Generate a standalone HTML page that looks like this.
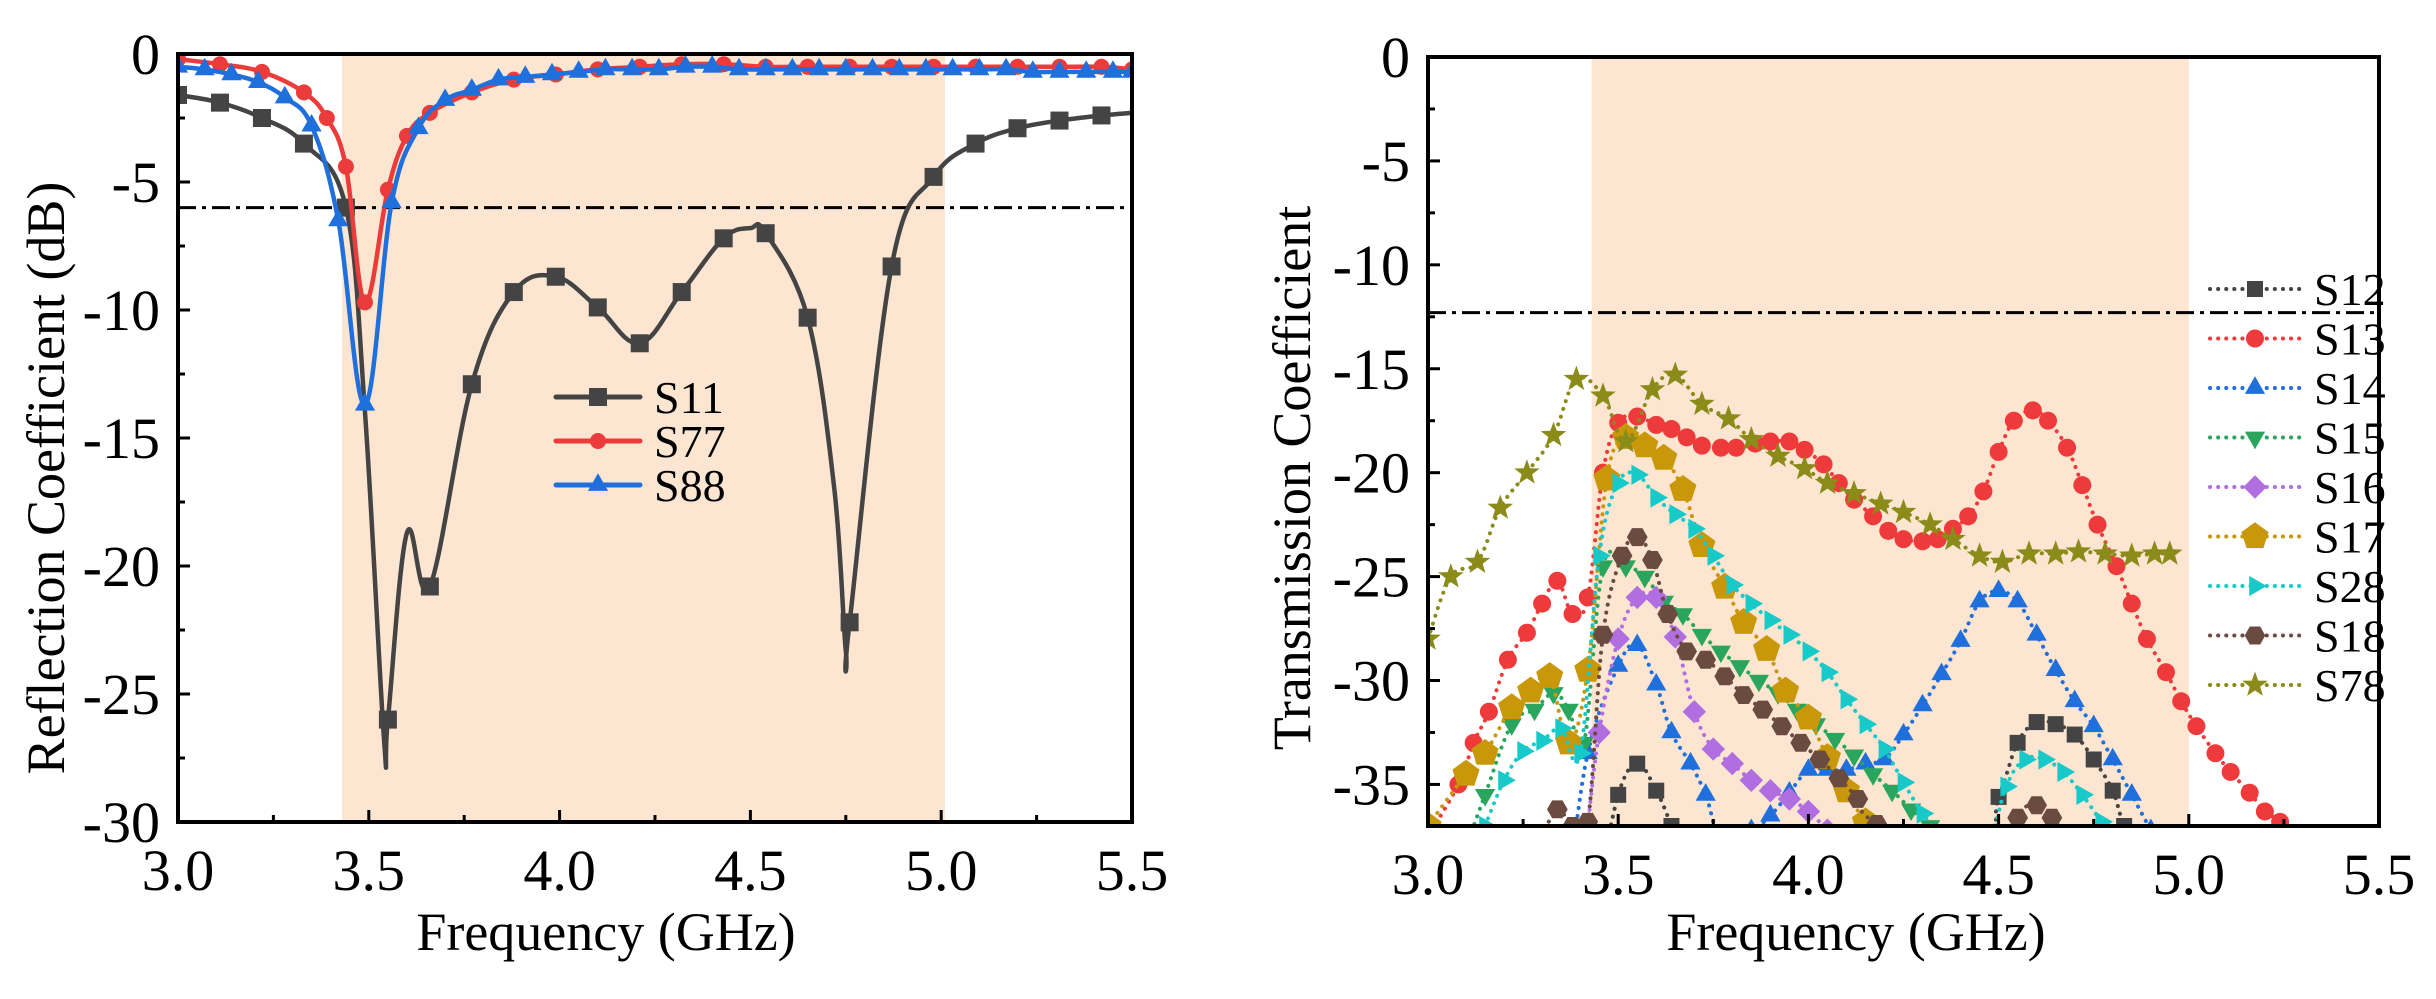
<!DOCTYPE html>
<html><head><meta charset="utf-8">
<style>
html,body{margin:0;padding:0;background:#fff;}
svg{display:block;}
text{font-family:"Liberation Serif",serif;fill:#000;}
</style></head>
<body>
<svg id="c" width="2436" height="999" viewBox="0 0 2436 999" xmlns="http://www.w3.org/2000/svg"></svg>
<script>
// ---------- Left chart data ----------
const s11F=[3.0,3.11,3.22,3.33,3.44,3.49,3.54,3.55,3.6,3.66,3.77,3.88,3.99,4.1,4.21,4.32,4.43,4.5,4.54,4.65,4.72,4.75,4.76,4.87,4.98,5.09,5.2,5.31,5.42,5.5];
const s11V=[-1.6,-1.9,-2.5,-3.5,-6.0,-14,-26.8,-26,-18.7,-20.8,-12.9,-9.3,-8.7,-9.9,-11.3,-9.3,-7.2,-6.8,-7.0,-10.3,-17,-23.3,-22.2,-8.3,-4.8,-3.5,-2.9,-2.6,-2.4,-2.3];
const s11Mark=[1,1,1,1,1,0,0,1,0,1,1,1,1,1,1,1,1,0,1,1,0,0,1,1,1,1,1,1,1,0];
const s77F=[3.0,3.11,3.22,3.33,3.39,3.44,3.49,3.55,3.6,3.66,3.77,3.88,3.99,4.1,4.21,4.32,4.43,4.54,4.65,4.76,4.87,4.98,5.09,5.2,5.31,5.42,5.5];
const s77V=[-0.2,-0.4,-0.7,-1.5,-2.5,-4.4,-9.7,-5.3,-3.2,-2.3,-1.5,-1.0,-0.8,-0.6,-0.5,-0.4,-0.4,-0.5,-0.5,-0.5,-0.5,-0.5,-0.5,-0.5,-0.5,-0.5,-0.6];
const s88F=[3.0,3.07,3.14,3.21,3.28,3.35,3.42,3.49,3.56,3.63,3.70,3.77,3.84,3.91,3.98,4.05,4.12,4.19,4.26,4.33,4.40,4.47,4.54,4.61,4.68,4.75,4.82,4.89,4.96,5.03,5.10,5.17,5.24,5.31,5.38,5.45,5.5];
const s88V=[-0.5,-0.6,-0.8,-1.1,-1.7,-2.8,-6.5,-13.7,-5.8,-2.9,-1.8,-1.4,-1.0,-0.9,-0.8,-0.7,-0.6,-0.6,-0.6,-0.5,-0.5,-0.6,-0.6,-0.6,-0.6,-0.6,-0.6,-0.6,-0.6,-0.6,-0.6,-0.6,-0.7,-0.7,-0.7,-0.7,-0.7];
const leftXTicks=["3.0","3.5","4.0","4.5","5.0","5.5"];
const leftYTicks=["0","-5","-10","-15","-20","-25","-30"];
const leftThreshold=-6;
// ---------- Right chart data ----------
const s12F=[3.45,3.5,3.55,3.6,3.64,3.7,4.4,4.5,4.55,4.6,4.65,4.7,4.75,4.8,4.83,4.9];
const s12V=[-40,-35.5,-34,-35.3,-37,-40,-40,-35.6,-33,-32,-32.1,-32.6,-33.8,-35.3,-37,-40];
const s13F=[3.0,3.08,3.12,3.16,3.21,3.26,3.3,3.34,3.38,3.42,3.46,3.5,3.55,3.6,3.64,3.68,3.72,3.77,3.81,3.86,3.9,3.95,3.99,4.04,4.08,4.12,4.17,4.21,4.25,4.3,4.34,4.38,4.42,4.46,4.5,4.54,4.59,4.63,4.68,4.72,4.76,4.81,4.85,4.89,4.94,4.98,5.02,5.07,5.11,5.16,5.2,5.24,5.28];
const s13V=[-37.5,-35,-33,-31.5,-29,-27.7,-26.3,-25.2,-26.8,-26,-20,-17.6,-17.3,-17.7,-17.9,-18.3,-18.7,-18.8,-18.8,-18.6,-18.5,-18.5,-18.9,-19.6,-20.5,-21.3,-22.1,-22.8,-23.2,-23.3,-23.2,-22.7,-22.1,-20.9,-19,-17.5,-17,-17.5,-18.8,-20.6,-22.5,-24.5,-26.3,-28,-29.6,-31,-32.2,-33.5,-34.4,-35.4,-36.3,-36.8,-38];
const s14F=[3.37,3.42,3.5,3.55,3.6,3.64,3.69,3.73,3.77,3.85,3.9,3.95,4.0,4.05,4.1,4.15,4.2,4.25,4.3,4.35,4.4,4.45,4.5,4.55,4.6,4.65,4.7,4.75,4.8,4.85,4.9];
const s14V=[-40,-33.5,-29.3,-28.3,-30.2,-32.5,-34,-35.5,-37.5,-37.2,-36.5,-35.4,-34.3,-34.3,-34.3,-34,-33.8,-32.6,-31.2,-29.7,-28.1,-26.2,-25.7,-26.2,-27.8,-29.5,-31,-32.2,-33.8,-35.5,-37.2];
const s15F=[3.1,3.15,3.22,3.28,3.33,3.37,3.41,3.46,3.52,3.57,3.62,3.67,3.72,3.77,3.82,3.87,3.92,3.97,4.02,4.07,4.12,4.17,4.22,4.27,4.32];
const s15V=[-38,-35.5,-32.1,-31.4,-30.6,-31.4,-33,-24.5,-24.5,-25,-26.2,-26.8,-27.8,-28.6,-29.3,-30,-30.6,-31.4,-32.1,-32.8,-33.6,-34.5,-35.3,-36.2,-37];
const s16F=[3.42,3.45,3.5,3.55,3.6,3.65,3.7,3.75,3.8,3.85,3.9,3.95,4.0,4.05];
const s16V=[-37,-32.5,-28,-26,-26,-27.9,-31.5,-33.3,-34,-34.8,-35.3,-35.7,-36.3,-37.2];
const s17F=[3.0,3.1,3.15,3.22,3.27,3.32,3.37,3.42,3.47,3.52,3.57,3.62,3.67,3.72,3.78,3.83,3.89,3.94,4.0,4.05,4.1,4.15,4.2];
const s17V=[-37,-34.5,-33.5,-31.3,-30.5,-29.8,-33,-29.5,-20.3,-18.3,-18.7,-19.3,-20.8,-23.5,-25.5,-27.2,-28.5,-30.5,-31.8,-33.7,-35.3,-36.8,-37.5];
const s28F=[3.15,3.2,3.25,3.3,3.35,3.4,3.45,3.5,3.55,3.6,3.65,3.7,3.75,3.8,3.85,3.9,3.95,4.0,4.05,4.1,4.15,4.2,4.25,4.3,4.35,4.45,4.52,4.57,4.62,4.67,4.72,4.77];
const s28V=[-37,-34.8,-33.4,-32.9,-32.3,-33.5,-24,-20.5,-20.1,-21.2,-22,-22.7,-24,-25.4,-26.3,-27.1,-27.8,-28.6,-29.6,-30.9,-32.1,-33.3,-34.9,-36.4,-37.5,-39,-35.1,-33.8,-33.8,-34.4,-35.5,-36.8];
const s18F=[3.3,3.34,3.38,3.42,3.46,3.51,3.55,3.59,3.63,3.68,3.73,3.78,3.83,3.88,3.93,3.98,4.03,4.08,4.13,4.18,4.5,4.55,4.6,4.64,4.7];
const s18V=[-37.5,-36.2,-37,-36.8,-27.8,-24,-23.1,-24.2,-26.8,-28.6,-29,-29.8,-30.7,-31.4,-32.2,-33,-33.8,-34.7,-35.7,-36.9,-40,-36.6,-36,-36.6,-38];
const s78F=[3.0,3.06,3.13,3.19,3.26,3.33,3.39,3.46,3.52,3.59,3.65,3.72,3.79,3.85,3.92,3.99,4.05,4.12,4.19,4.25,4.32,4.38,4.45,4.51,4.58,4.65,4.71,4.78,4.85,4.91,4.95];
const s78V=[-28,-25,-24.3,-21.7,-20,-18.2,-15.5,-16.3,-18.5,-16,-15.3,-16.7,-17.4,-18.4,-19.2,-19.8,-20.5,-21,-21.5,-21.9,-22.5,-23.2,-24,-24.3,-23.9,-23.9,-23.8,-23.9,-24,-23.9,-23.9];
const rightXTicks=["3.0","3.5","4.0","4.5","5.0","5.5"];
const rightYTicks=["0","-5","-10","-15","-20","-25","-30","-35"];
const rightThreshold=-12.3;

const NS="http://www.w3.org/2000/svg";
const svg=document.getElementById('c');
function mk(tag,attrs,parent){const e=document.createElementNS(NS,tag);for(const k in attrs)e.setAttribute(k,attrs[k]);(parent||svg).appendChild(e);return e;}

function smoothPath(pts){
  if(pts.length<2)return '';
  let d='M'+pts[0][0]+','+pts[0][1];
  for(let i=0;i<pts.length-1;i++){
    const p0=pts[i-1]||pts[i],p1=pts[i],p2=pts[i+1],p3=pts[i+2]||p2;
    const t=0.18;
    const c1=[p1[0]+(p2[0]-p0[0])*t,p1[1]+(p2[1]-p0[1])*t];
    const c2=[p2[0]-(p3[0]-p1[0])*t,p2[1]-(p3[1]-p1[1])*t];
    d+=' C'+c1[0]+','+c1[1]+' '+c2[0]+','+c2[1]+' '+p2[0]+','+p2[1];
  }
  return d;
}
function marker(g,shape,x,y,r,color){
  let e;
  if(shape==='square'){e=mk('rect',{x:x-r,y:y-r,width:2*r,height:2*r,fill:color},g);}
  else if(shape==='circle'){e=mk('circle',{cx:x,cy:y,r:r,fill:color},g);}
  else{
    let pts;
    const poly=(n,rot,rr)=>{const a=[];for(let i=0;i<n;i++){const an=rot+i*2*Math.PI/n;a.push((x+rr*Math.cos(an)).toFixed(1)+','+(y+rr*Math.sin(an)).toFixed(1));}return a.join(' ');};
    if(shape==='tri')pts=poly(3,-Math.PI/2,r*1.3);
    else if(shape==='dtri')pts=poly(3,Math.PI/2,r*1.3);
    else if(shape==='rtri')pts=poly(3,0,r*1.3);
    else if(shape==='diamond')pts=poly(4,-Math.PI/2,r*1.3);
    else if(shape==='pent')pts=poly(5,-Math.PI/2,r*1.3);
    else if(shape==='hex')pts=poly(6,0,r*1.15);
    else if(shape==='star'){const a=[];for(let i=0;i<10;i++){const an=-Math.PI/2+i*Math.PI/5;const rr=i%2?r*0.55:r*1.35;a.push((x+rr*Math.cos(an)).toFixed(1)+','+(y+rr*Math.sin(an)).toFixed(1));}pts=a.join(' ');}
    e=mk('polygon',{points:pts,fill:color},g);
  }
  
  
}

function chart(o){
  const X=f=>o.L+(f-3)/2.5*(o.R-o.L);
  const Y=v=>o.T+(0-v)/(-o.ymin)*(o.B-o.T);
  const g=mk('g',{});
  
  
  const clipId=o.name+'-clip';
  const cp=mk('clipPath',{id:clipId},g);mk('rect',{x:o.L,y:o.T,width:o.R-o.L,height:o.B-o.T},cp);
  const band=mk('rect',{x:X(3.43),y:o.T,width:X(o.bandEnd)-X(3.43),height:o.B-o.T,fill:'#fde6d1'},g);
  
  
  const th=mk('line',{x1:o.L,x2:o.thEnd,y1:Y(o.th),y2:Y(o.th),stroke:'#000','stroke-width':3,'stroke-dasharray':'18,6,4,6'},g);
  
  
  const pg=mk('g',{'clip-path':'url(#'+clipId+')'},g);
  o.series.forEach(s=>{
    const sg=mk('g',{},pg);
    
    
    const pts=s.f.map((f,i)=>[X(f),Y(s.v[i])]);
    mk('path',{d:smoothPath(pts),fill:'none',stroke:s.color,'stroke-width':s.dotted?4:4.5,'stroke-dasharray':s.dotted?'0.1,8':'none','stroke-linecap':'round'},sg);
    pts.forEach((p,i)=>{if(!s.mark||s.mark[i])marker(sg,s.shape,p[0],p[1],s.r||10,s.color);});
  });
  const fr=mk('rect',{x:o.L,y:o.T,width:o.R-o.L,height:o.B-o.T,fill:'none',stroke:'#000','stroke-width':4},g);
  
  
  o.xt.forEach((t,i)=>{
    const x=X(parseFloat(t));
    mk('line',{x1:x,x2:x,y1:o.B,y2:o.B-12,stroke:'#000','stroke-width':3},g);
    if(i<o.xt.length-1){const xm=X(parseFloat(t)+0.25);mk('line',{x1:xm,x2:xm,y1:o.B,y2:o.B-7,stroke:'#000','stroke-width':3},g);}
    const tx=mk('text',{x:x,y:o.B+68,'font-size':58,'text-anchor':'middle'},g);tx.textContent=t;
    
    
  });
  o.yt.forEach((t,i)=>{
    const v=parseFloat(t);const y=Y(v);
    mk('line',{x1:o.L,x2:o.L+12,y1:y,y2:y,stroke:'#000','stroke-width':3},g);
    if(v-2.5>o.ymin){const ym=Y(v-2.5);mk('line',{x1:o.L,x2:o.L+7,y1:ym,y2:ym,stroke:'#000','stroke-width':3},g);}
    const tx=mk('text',{x:o.L-18,y:y+20,'font-size':58,'text-anchor':'end'},g);tx.textContent=t;
    
    
  });
  const xt=mk('text',{x:o.xtX,y:950,'font-size':54,'text-anchor':'middle'},g);xt.textContent='Frequency (GHz)';
  
  
  const yt=mk('text',{x:0,y:0,'font-size':54,'text-anchor':'middle',transform:'translate('+o.ytX+',478) rotate(-90)'},g);yt.textContent=o.ytitle;
  
  
  const lg=mk('g',{},g);
  
  
  o.series.forEach((s,i)=>{
    const y=o.lgY+i*o.lgDy;
    const eg=mk('g',{},lg);
    
    
    mk('line',{x1:o.lgX1,x2:o.lgX2,y1:y,y2:y,stroke:s.color,'stroke-width':s.dotted?4:5,'stroke-dasharray':s.dotted?'0.1,8':'none','stroke-linecap':'round'},eg);
    marker(eg,s.shape,(o.lgX1+o.lgX2)/2,y,s.r||10,s.color);
    const tx=mk('text',{x:o.lgX2+14,y:y+16,'font-size':46},eg);tx.textContent=s.label;
  });
}

chart({name:'reflection-chart',L:178,R:1132,T:54,B:822,ymin:-30,bandEnd:5.01,th:leftThreshold,thEnd:1128,
  xt:leftXTicks,yt:leftYTicks,xtX:606,ytX:64,ytitle:'Reflection Coefficient (dB)',
  lgX1:556,lgX2:640,lgY:397,lgDy:44,
  series:[
   {label:'S11',f:s11F,v:s11V,mark:s11Mark,color:'#444444',shape:'square',r:9},
   {label:'S77',f:s77F,v:s77V,color:'#ec3b3b',shape:'circle',r:8},
   {label:'S88',f:s88F,v:s88V,color:'#1f6fdc',shape:'tri',r:9}]});

chart({name:'transmission-chart',L:1428,R:2379,T:57,B:826,ymin:-37,bandEnd:5.0,th:rightThreshold,thEnd:2379,
  xt:rightXTicks,yt:rightYTicks,xtX:1856,ytX:1310,ytitle:'Transmission Coefficient',
  lgX1:2210,lgX2:2300,lgY:289,lgDy:49.5,
  series:[
   {label:'S12',f:s12F,v:s12V,color:'#444444',shape:'square',dotted:1,r:8},
   {label:'S13',f:s13F,v:s13V,color:'#ee3a3a',shape:'circle',dotted:1,r:9},
   {label:'S14',f:s14F,v:s14V,color:'#1f6fdc',shape:'tri',dotted:1,r:9},
   {label:'S15',f:s15F,v:s15V,color:'#2aa55e',shape:'dtri',dotted:1,r:9},
   {label:'S16',f:s16F,v:s16V,color:'#b06ee0',shape:'diamond',dotted:1,r:9},
   {label:'S17',f:s17F,v:s17V,color:'#c9980a',shape:'pent',dotted:1,r:11},
   {label:'S28',f:s28F,v:s28V,color:'#17c9c9',shape:'rtri',dotted:1,r:9},
   {label:'S18',f:s18F,v:s18V,color:'#6b4a40',shape:'hex',dotted:1,r:9},
   {label:'S78',f:s78F,v:s78V,color:'#8b8b1a',shape:'star',dotted:1,r:10}]});
</script>
</body></html>
